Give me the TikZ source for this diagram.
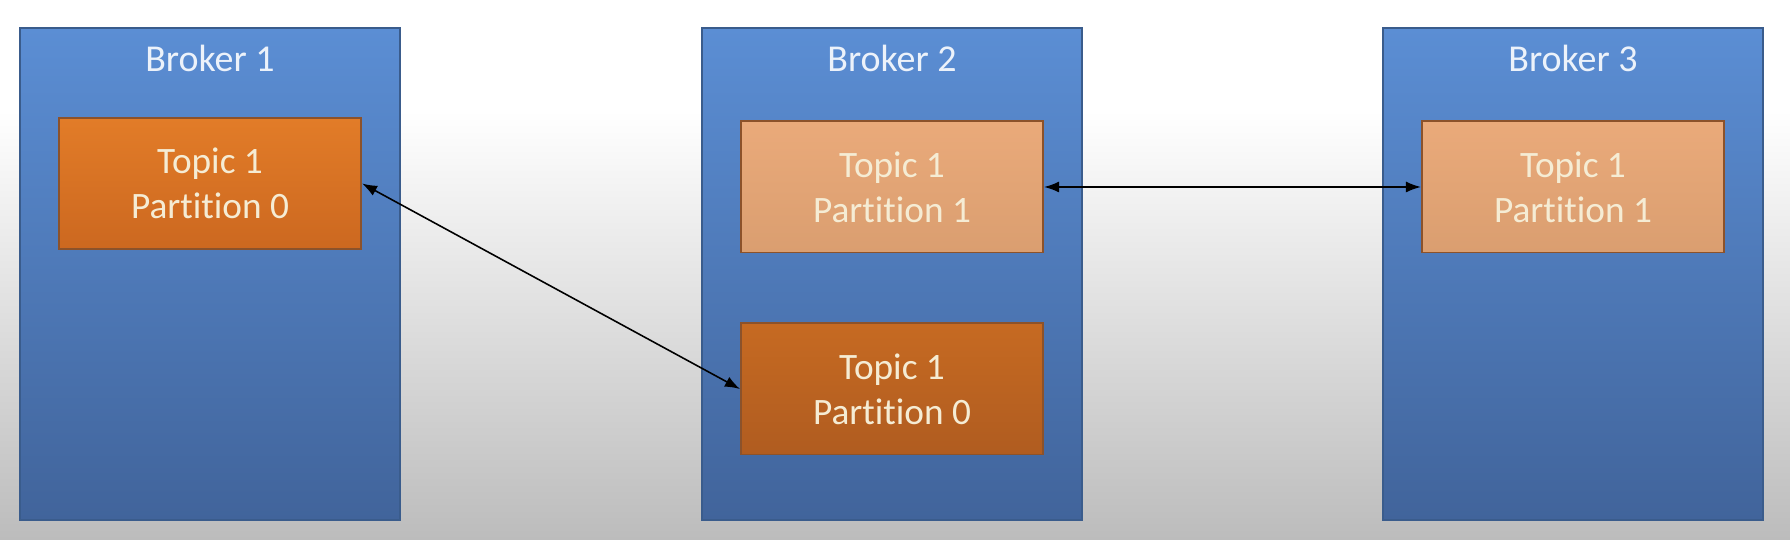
\documentclass[tikz,border=0pt]{standalone}
\usepackage{fontspec}
\setmainfont{Carlito}[Ligatures=NoCommon]
\usepackage{xcolor}
\usetikzlibrary{arrows.meta}

\definecolor{bggray}{RGB}{188,188,188}
\definecolor{brokertop}{RGB}{91,142,212}
\definecolor{brokerbot}{RGB}{65,100,155}
\definecolor{brokerline}{RGB}{58,92,140}
\definecolor{leadtop}{RGB}{226,124,40}
\definecolor{leadbot}{RGB}{204,104,32}
\definecolor{copytop}{RGB}{198,106,34}
\definecolor{copybot}{RGB}{176,92,32}
\definecolor{followtop}{RGB}{234,170,122}
\definecolor{followbot}{RGB}{218,158,112}
\definecolor{boxline}{RGB}{140,82,42}
\definecolor{topictext}{RGB}{245,236,212}
\definecolor{titletext}{RGB}{236,242,250}

\begin{document}
\begin{tikzpicture}[
    x=0.01cm, y=0.01cm,
    >={Latex[length=1.5mm,width=1.1mm]},
    broker/.style={draw=brokerline, line width=0.55pt,
        top color=brokertop, bottom color=brokerbot,
        minimum width=3.8cm, minimum height=4.92cm, inner sep=0pt},
    title/.style={anchor=base, text=titletext,
        font={\fontsize{10.8pt}{12.8pt}\selectfont}},
    topic/.style={draw=boxline, line width=0.55pt,
        minimum width=3.02cm, minimum height=1.31cm, inner sep=0pt,
        align=center, text=topictext,
        font={\fontsize{10.6pt}{12.8pt}\selectfont}},
    leader/.style={topic, top color=leadtop, bottom color=leadbot},
    replica/.style={topic, top color=copytop, bottom color=copybot},
    follower/.style={topic, top color=followtop, bottom color=followbot},
    ]

    % background
    \fill[white] (0,0) rectangle (1790,540);
    \shade[top color=white, bottom color=bggray] (0,0) rectangle (1790,430);
    \useasboundingbox (0,0) rectangle (1790,540);

    % brokers
    \node[broker] (broker1) at (210,266) {};
    \node[broker] (broker2) at (892,266) {};
    \node[broker] (broker3) at (1573,266) {};

    \node[title] (title1) at (210,468) {Broker 1};
    \node[title] (title2) at (892,468) {Broker 2};
    \node[title] (title3) at (1573,468) {Broker 3};

    % partitions
    \node[leader] (b1p0) at (210,356.5) {Topic 1\\Partition 0};
    \node[follower] (b2p1) at (892,353) {Topic 1\\Partition 1};
    \node[replica] (b2p0) at (892,151) {Topic 1\\Partition 0};
    \node[follower] (b3p1) at (1573,353) {Topic 1\\Partition 1};

    % replication
    \draw[<->, line width=0.45pt] (b1p0.east) -- (b2p0.west);
    \draw[<->, line width=0.45pt] (b2p1.east) -- (b3p1.west);

\end{tikzpicture}
\end{document}
